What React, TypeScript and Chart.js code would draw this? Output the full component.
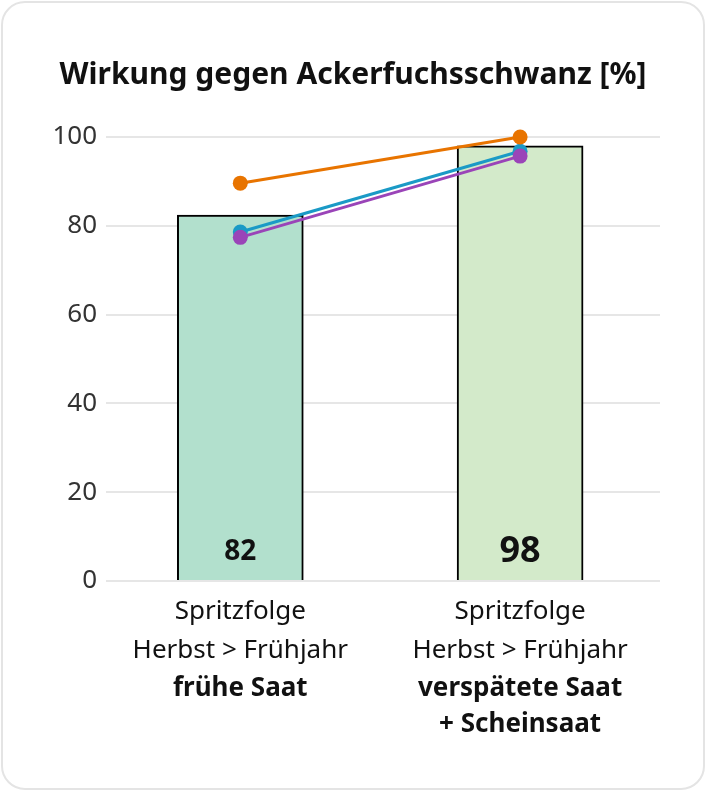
import React, { useEffect, useRef } from "react";
import { Chart, registerables } from "chart.js";

Chart.register(...registerables);

const categories = ["frühe Saat", "verspätete Saat + Scheinsaat"];
const labelLinesNormal: string[][] = [
  ["Spritzfolge", "Herbst > Frühjahr"],
  ["Spritzfolge", "Herbst > Frühjahr"],
];
const labelLinesBold: string[][] = [["frühe Saat"], ["verspätete Saat", "+ Scheinsaat"]];
const barValues = [82.4, 98];
const orangeValues = [89.6, 100];
const blueValues = [78.6, 96.8];
const purpleValues = [77.4, 95.7];
const yTicks = [0, 20, 40, 60, 80, 100];
const titleText = "Wirkung gegen Ackerfuchsschwanz [%]";

const FONT = "'Noto Sans', 'Open Sans', sans-serif";

const toXY = (vals: number[]) => vals.map((v, i) => ({ x: i, y: v }));
const categoryTicks = categories.map((_c, i) => ({ value: i }));

const barLabelPlugin = {
  id: "barLabels",
  afterDatasetsDraw(chart: any) {
    const meta = chart.getDatasetMeta(0);
    const ctx = chart.ctx;
    const y0 = chart.scales.y.getPixelForValue(0);
    const maxVal = Math.max(...barValues);
    ctx.save();
    ctx.fillStyle = "#111111";
    ctx.textAlign = "center";
    ctx.textBaseline = "middle";
    meta.data.forEach((bar: any, i: number) => {
      const v = barValues[i];
      const size = v === maxVal ? 36 : 28;
      ctx.font = `bold ${size}px ${FONT}`;
      ctx.fillText(String(Math.round(v)), bar.x, y0 - 29);
    });
    ctx.restore();
  },
};

const lineDataset = (vals: number[], color: string, order: number) => ({
  type: "line",
  data: toXY(vals),
  borderColor: color,
  backgroundColor: color,
  borderWidth: 3,
  pointRadius: 7.5,
  pointBorderWidth: 0,
  clip: false,
  order,
});

export default function App() {
  const ref = useRef<HTMLCanvasElement | null>(null);

  useEffect(() => {
    if (!ref.current) return;
    const chart = new Chart(ref.current, {
      type: "bar",
      data: {
        datasets: [
          {
            type: "bar",
            data: toXY(barValues),
            backgroundColor: ["#b2e0cd", "#d3eaca"],
            borderColor: "#000000",
            borderWidth: 2,
            barThickness: 126,
            order: 10,
          } as any,
          lineDataset(blueValues, "#1a9ac6", 3),
          lineDataset(purpleValues, "#9a44b8", 2),
          lineDataset(orangeValues, "#e87400", 1),
        ],
      },
      options: {
        animation: false,
        responsive: false,
        devicePixelRatio: 1,
        layout: { padding: 0 },
        plugins: {
          legend: { display: false },
          tooltip: { enabled: false },
          title: {
            display: true,
            text: titleText,
            color: "#111111",
            font: { family: FONT, size: 30, weight: "bold", lineHeight: 1.2 },
            padding: { top: 57, bottom: 44 },
          },
        },
        scales: {
          y: {
            min: 0,
            max: 100,
            afterBuildTicks: (s: any) => {
              s.ticks = yTicks.map((v) => ({ value: v }));
            },
            afterFit: (s: any) => {
              s.width = 106;
            },
            ticks: {
              color: "#333333",
              font: { family: FONT, size: 26 },
              padding: 9,
            },
            grid: { color: "#e6e6e6", lineWidth: 2, drawTicks: false },
            border: { display: false },
          },
          yRight: {
            position: "right",
            display: true,
            afterFit: (s: any) => {
              s.width = 46;
            },
            ticks: { display: false },
            grid: { display: false, drawTicks: false },
            border: { display: false },
          },
          x: {
            type: "linear",
            offset: false,
            min: -0.48,
            max: 1.5,
            weight: 0,
            afterBuildTicks: (s: any) => {
              s.ticks = categoryTicks.map((t) => ({ ...t }));
            },
            afterFit: (s: any) => {
              s.height = 86;
            },
            grid: { display: false, drawTicks: false },
            border: { display: false },
            ticks: {
              color: "#111111",
              font: { family: FONT, size: 26, lineHeight: 1.5 },
              padding: 11,
              maxRotation: 0,
              autoSkip: false,
              callback: (v: any) => labelLinesNormal[Math.round(v)],
            },
          },
          x2: {
            type: "linear",
            position: "bottom",
            offset: false,
            min: -0.48,
            max: 1.5,
            weight: 1,
            afterBuildTicks: (s: any) => {
              s.ticks = categoryTicks.map((t) => ({ ...t }));
            },
            afterFit: (s: any) => {
              s.height = 125;
            },
            grid: { display: false, drawTicks: false },
            border: { display: false },
            ticks: {
              color: "#111111",
              font: { family: FONT, size: 26, weight: "bold", lineHeight: 1.4 },
              padding: 3,
              maxRotation: 0,
              autoSkip: false,
              callback: (v: any) => labelLinesBold[Math.round(v)],
            },
          },
        },
      } as any,
      plugins: [barLabelPlugin],
    });
    return () => chart.destroy();
  }, []);

  return (
    <div style={{ position: "fixed", left: 0, top: 0, width: 706, height: 792, background: "#ffffff" }}>
      <div
        style={{
          position: "absolute",
          left: 1,
          top: 1,
          width: 704,
          height: 789,
          boxSizing: "border-box",
          border: "2px solid #e4e4e4",
          borderRadius: 24,
          background: "#ffffff",
        }}
      />
      <canvas
        ref={ref}
        width={706}
        height={792}
        style={{ position: "absolute", left: 0, top: 0, width: 706, height: 792 }}
      />
    </div>
  );
}
